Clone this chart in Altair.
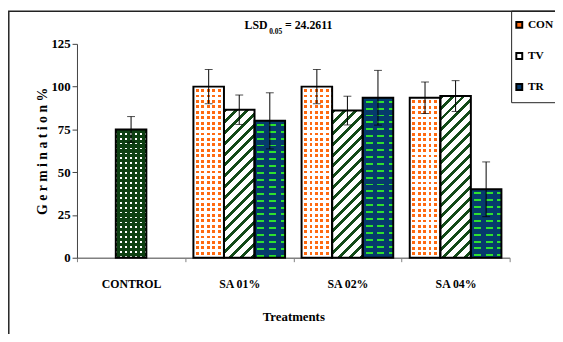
import altair as alt
import pandas as pd

# ---------------- data ----------------
categories = ["CONTROL", "SA 01%", "SA 02%", "SA 04%"]
series = ["CON", "TV", "TR"]
control_value = 75.0
control_error = 7.5
con_values = [100.0, 100.0, 93.5]
con_errors = [10.0, 10.0, 9.2]
tv_values = [86.5, 86.0, 94.5]
tv_errors = [8.6, 8.4, 9.0]
tr_values = [80.0, 93.5, 40.0]
tr_errors = [16.4, 16.0, 16.0]
y_ticks = [0, 25, 50, 75, 100, 125]
lsd_parts = ["LSD", "0.05", "= 24.2611"]
x_title = "Treatments"
y_title = "G e r m i n a t i o n  %"

rows = [{"category": categories[0], "slot": series[1], "group": "CONTROL",
         "value": control_value, "error": control_error}]
for name, vals, errs in (("CON", con_values, con_errors),
                         ("TV", tv_values, tv_errors),
                         ("TR", tr_values, tr_errors)):
    for cat, v, e in zip(categories[1:], vals, errs):
        rows.append({"category": cat, "slot": name, "group": name, "value": v, "error": e})
df = pd.DataFrame(rows)
df["low"] = df["value"] - df["error"]
df["high"] = df["value"] + df["error"]
df["bar_id"] = range(len(df))

# ---------------- layout / style ----------------
PLOT_W, PLOT_H = 439, 217
Y_MAX = 125
PAD = {"left": 70, "top": 34, "right": 46, "bottom": 75}
SERIF = "Liberation Serif"
ORANGE = "#ff6a10"
TV_GREEN = "#134a18"
NAVY = "#063a6c"
DASH_GREEN = "#2ee02e"
CTRL_GREEN = "#0e4012"
CLEAR = "rgba(255,255,255,0)"
OUTER_PAD = 0.27
BAR_W = PLOT_W / len(categories) / (len(series) + 2 * OUTER_PAD)

x_scale = alt.Scale(domain=categories, paddingInner=0, paddingOuter=0)
xo_scale = alt.Scale(domain=series, paddingInner=0, paddingOuter=OUTER_PAD)
y_scale = alt.Scale(domain=[0, Y_MAX], nice=False)
y_axis = alt.Axis(values=y_ticks)


def X():
    return alt.X("category:N", scale=x_scale, title=x_title)


def XO():
    return alt.XOffset("slot:N", scale=xo_scale)


def Y(field="value"):
    return alt.Y(f"{field}:Q", scale=y_scale, axis=y_axis, title=y_title)


def stops_along(length, period, on, on_color, off_color, phase=0.0):
    stops = []
    start = -phase
    while start < length:
        for a, b, col in ((start, start + on, on_color), (start + on, start + period, off_color)):
            a2, b2 = max(a, 0.0), min(b, length)
            if b2 > a2:
                stops.append(alt.GradientStop(offset=a2 / length, color=col))
                stops.append(alt.GradientStop(offset=b2 / length, color=col))
        start += period
    return stops


def vgrad(length, period, on, on_color, off_color, phase=0.0):
    return alt.LinearGradient(gradient="linear", x1=0, y1=0, x2=0, y2=1,
                              stops=stops_along(length, period, on, on_color, off_color, phase))


def hgrad(period, on, on_color, off_color, phase=0.0):
    return alt.LinearGradient(gradient="linear", x1=0, y1=0, x2=1, y2=0,
                              stops=stops_along(BAR_W, period, on, on_color, off_color, phase))


def dgrad(h, period, on, on_color, off_color):
    w = BAR_W
    s = (w + h) / (w * w + h * h)
    return alt.LinearGradient(gradient="linear", x1=0, y1=0, x2=w * s, y2=h * s,
                              stops=stops_along(w + h, period, on, on_color, off_color))


def bar_layer(bar_id, fill):
    return (alt.Chart().mark_bar(fill=fill, strokeWidth=0)
            .encode(x=X(), xOffset=XO(), y=Y())
            .transform_filter(alt.datum.bar_id == bar_id))


layers = []

# base bars (carry the legend)
layers.append(
    alt.Chart().mark_bar(strokeWidth=0).encode(
        x=X(), xOffset=XO(), y=Y(),
        color=alt.Color("group:N",
                        scale=alt.Scale(domain=series + ["CONTROL"],
                                        range=[ORANGE, "#ffffff", NAVY, CTRL_GREEN]),
                        legend=alt.Legend(values=series, title=None, orient="none",
                                          legendX=443, legendY=-25, padding=0, rowPadding=16.5,
                                          symbolType="square", symbolSize=36,
                                          symbolStrokeColor="black", symbolStrokeWidth=2,
                                          labelFont=SERIF, labelFontWeight="bold",
                                          labelFontSize=11.5, labelColor="black", labelOffset=3))
    )
)

# textures, bar by bar
for rec in df.itertuples():
    h = rec.value / Y_MAX * PLOT_H
    if rec.group == "CONTROL":
        layers.append(bar_layer(rec.bar_id, vgrad(h, 5, 1.8, "#ffffff", CLEAR, 1.5)))
        layers.append(bar_layer(rec.bar_id, hgrad(5, 1.8, CLEAR, CTRL_GREEN, 0.5)))
    elif rec.group == "CON":
        layers.append(bar_layer(rec.bar_id, vgrad(h, 5.5, 2.6, "#ffffff", CLEAR, 0.0)))
        layers.append(bar_layer(rec.bar_id, hgrad(5.5, 2.6, "#ffffff", CLEAR, 0.0)))
    elif rec.group == "TV":
        layers.append(bar_layer(rec.bar_id, dgrad(h, 11, 4, TV_GREEN, CLEAR)))
    else:
        layers.append(bar_layer(rec.bar_id, vgrad(h, 7, 2, DASH_GREEN, CLEAR, 4)))
        layers.append(bar_layer(rec.bar_id, hgrad(12, 5, NAVY, CLEAR, 2)))

# outlines
layers.append(alt.Chart().mark_bar(fill="transparent", stroke="black", strokeWidth=2)
              .encode(x=X(), xOffset=XO(), y=Y()))

# error bars
layers.append(alt.Chart().mark_rule(color="black", strokeWidth=1)
              .encode(x=X(), xOffset=XO(), y=Y("low"), y2="high:Q"))
for fld in ("low", "high"):
    layers.append(alt.Chart().mark_tick(color="black", thickness=1, size=8, orient="horizontal")
                  .encode(x=X(), xOffset=XO(), y=Y(fld)))

# LSD annotation
text_style = dict(font=SERIF, fontWeight="bold", color="black", align="left", baseline="alphabetic")
for txt, px, py, fs in ((lsd_parts[0], 170, -15, 12),
                        (lsd_parts[1], 195, -10, 7.5),
                        (lsd_parts[2], 211, -15, 12)):
    layers.append(alt.Chart(alt.Data(values=[{"t": txt}]))
                  .mark_text(fontSize=fs, **text_style)
                  .encode(text="t:N", x=alt.value(px), y=alt.value(py)))

# outer frame and legend box
layers.append(alt.Chart(alt.Data(values=[{"k": 1}]))
              .mark_rect(fill="transparent", stroke="#222222", strokeWidth=1.5)
              .encode(x=alt.value(-69.2), x2=alt.value(520), y=alt.value(-33.2), y2=alt.value(400)))
layers.append(alt.Chart(alt.Data(values=[{"k": 1}]))
              .mark_rect(fill="transparent", stroke="#222222", strokeWidth=1)
              .encode(x=alt.value(441), x2=alt.value(540), y=alt.value(-33.2), y2=alt.value(59.7)))

chart = (
    alt.layer(*layers, data=df)
    .properties(width=PLOT_W, height=PLOT_H, padding=PAD,
                autosize=alt.AutoSizeParams(type="none"), background="white")
    .configure_view(strokeWidth=0)
    .configure_axisX(domainColor="#808080", domainWidth=1.5, tickColor="#808080", tickSize=4,
                     tickBand="extent", labelFont=SERIF, labelFontWeight="bold", labelFontSize=12,
                     labelColor="black", labelAngle=0, labelPadding=17, titleFont=SERIF,
                     titleFontWeight="bold", titleFontSize=13, titleColor="black", titlePadding=22,
                     grid=False)
    .configure_axisY(domainColor="#404040", tickColor="#404040", tickSize=5, labelFont=SERIF,
                     labelFontWeight="bold", labelFontSize=13, labelColor="black", labelPadding=2,
                     titleFont=SERIF, titleFontWeight="bold", titleFontSize=14, titleColor="black",
                     titlePadding=1, grid=False)
)

chart.save("out.html", embed_options={"renderer": "svg", "actions": False})
